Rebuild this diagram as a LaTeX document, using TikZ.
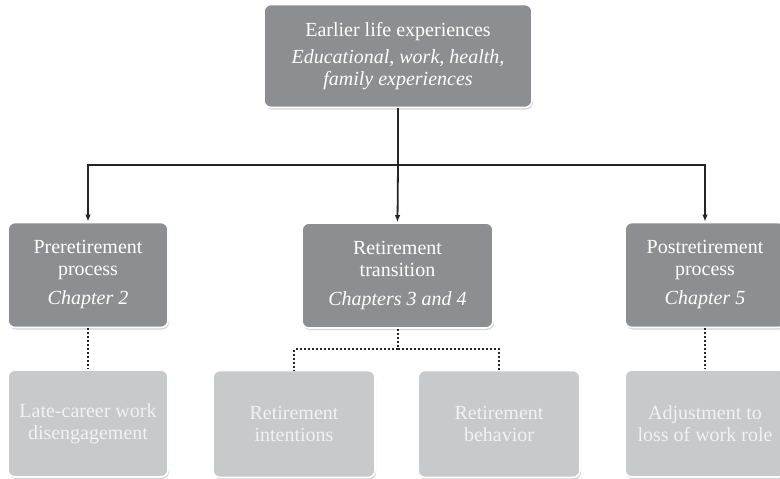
\documentclass[tikz,border=0pt]{standalone}
\usepackage{fontspec}
\setmainfont{Liberation Serif}
\usetikzlibrary{positioning,shadows,arrows.meta}
\definecolor{stagegray}{HTML}{8D8E91}
\definecolor{topicgray}{HTML}{C8C9CB}
\definecolor{topictext}{HTML}{F2F2F2}
\tikzset{
  stagebox/.style={draw=white,line width=1.6pt,fill=stagegray,rounded corners=7pt,
    text=white,align=center,inner sep=2pt,font=\fontsize{20}{22}\selectfont,
    drop shadow={opacity=0.35,shadow xshift=1pt,shadow yshift=-2pt}},
  topicbox/.style={stagebox,fill=topicgray,text=topictext},
  feed/.style={line width=1.8pt,draw=black!85},
  branch/.style={line width=2pt,draw=black!85,dash pattern=on 2pt off 2pt}
}

\begin{document}
\begin{tikzpicture}[x=1pt,y=-1pt]
\useasboundingbox (0,0) rectangle (780,479);
% stages
\node[stagebox,minimum width=268pt,minimum height=103pt] (early) at (398,56)
  {Earlier life experiences\\[5pt]\textit{Educational, work, health,}\\\textit{family experiences}};
\node[stagebox,minimum width=160pt,minimum height=105pt] (pre) at (88,275)
  {Preretirement\\process\\[7pt]\textit{Chapter 2}};
\node[stagebox,minimum width=191pt,minimum height=105pt] (trans) at (397.5,275.5)
  {Retirement\\transition\\[7pt]\textit{Chapters 3 and 4}};
\node[stagebox,minimum width=160pt,minimum height=105pt] (post) at (705,275)
  {Postretirement\\process\\[7pt]\textit{Chapter 5}};
% topics
\node[topicbox,minimum width=160pt,minimum height=107pt] (late) at (88,423.5)
  {Late-career work\\disengagement};
\node[topicbox,minimum width=162pt,minimum height=107pt] (intent) at (294,424)
  {Retirement\\intentions};
\node[topicbox,minimum width=162pt,minimum height=107pt] (behav) at (499,424)
  {Retirement\\behavior};
\node[topicbox,minimum width=160pt,minimum height=107pt] (adjust) at (705,423.5)
  {Adjustment to\\loss of work role};

\coordinate (fork) at (early.south |- 0,165);
\coordinate (dfork) at (trans.south |- 0,349);

\begin{scope}[feed,-{Latex[length=7pt,width=5.5pt]}]
\draw[-] (early.south) -- (fork);
\draw (fork) -| (pre.north);
\draw (fork) -- (trans.north);
\draw (fork) -| (post.north);
\end{scope}

\begin{scope}[branch]
\draw (pre.south) -- (late.north);
\draw (trans.south) -- (dfork);
\draw (dfork) -| (intent.north);
\draw (dfork) -| (behav.north);
\draw (post.south) -- (adjust.north);
\end{scope}
\end{tikzpicture}
\end{document}
